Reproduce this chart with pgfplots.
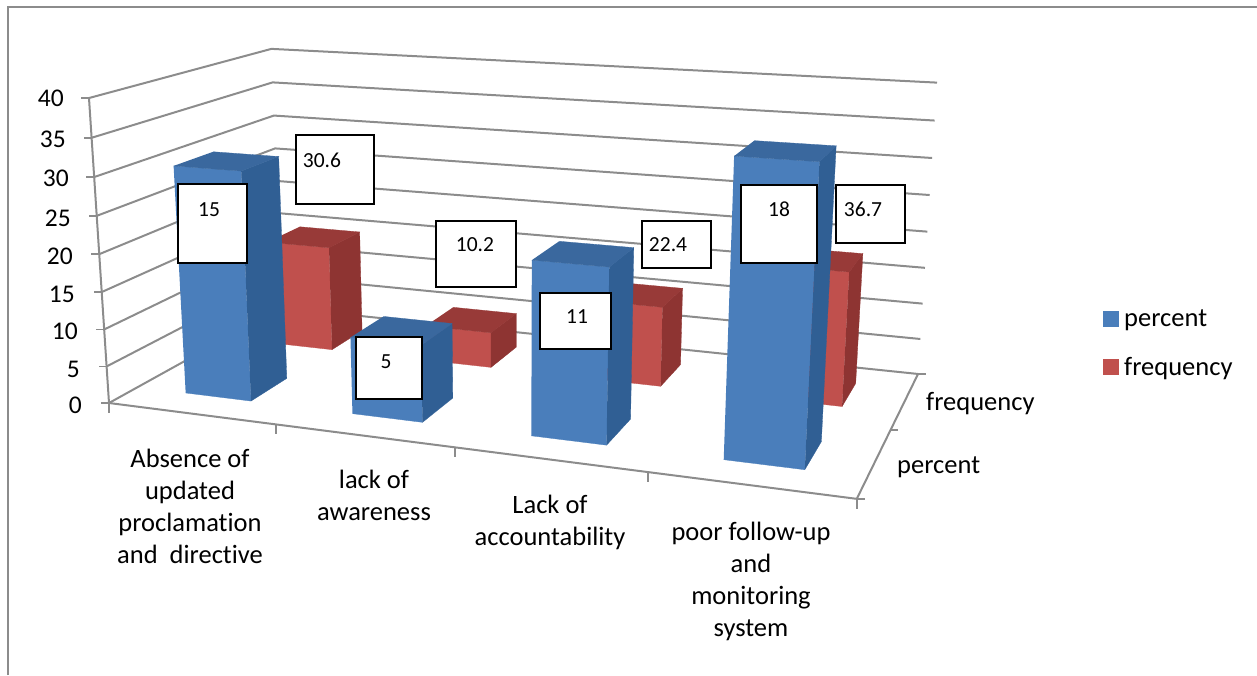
\documentclass[border=0pt]{standalone}
\usepackage{fontspec}
\setmainfont{Carlito}[Ligatures=NoCommon]
\usepackage{pgfplots}
\usepackage{pgfplotstable}
\pgfplotsset{compat=1.18}

\definecolor{gridgray}{HTML}{8C8C8C}
\definecolor{bluefront}{HTML}{4A7EBB}
\definecolor{blueside}{HTML}{305F94}
\definecolor{bluetop}{HTML}{3A689E}
\definecolor{redfront}{HTML}{C0504D}
\definecolor{redside}{HTML}{8E3432}
\definecolor{redtop}{HTML}{983A38}

% Perspective projection of the chart box: a = category run (0..1),
% b = depth (0..1), c = value on the 0..40 scale.
\pgfset{declare function={
  den(\a,\b,\c)=1-0.1378*\a+0.1871*\b-0.04707*\c/40;
  projx(\a,\b,\c)=(109+629.7*\a+224.6*\b-24.2*\c/40)/den(\a,\b,\c);
  projy(\a,\b,\c)=(403+27.1*\a-37.7*\b-309.6*\c/40)/den(\a,\b,\c);
}}

% Unit faces of a bar, as signs about its centre
\pgfplotstableread{
sx sd sv
-1 -1 0
1 -1 0
1 -1 1
-1 -1 1
}\frontface
\pgfplotstableread{
sx sd sv
1 -1 0
1 1 0
1 1 1
1 -1 1
}\sideface
\pgfplotstableread{
sx sd sv
-1 -1 1
1 -1 1
1 1 1
-1 1 1
}\topface
% Walls and floor outline
\pgfplotstableread{
x d
0 0
0 1
1 1
}\walls
\pgfplotstableread{
x d v
0 0 40
0 0 0
1 0 0
1 1 0
}\boxedge
% Tick run from the axis outward
\pgfplotstableread{
o p
0 0
1 1
}\tickrun

\newcommand{\barface}[5]{%
  \addplot[forget plot,fill=#5,draw=#5,line width=0.3pt] table[
    x expr={projx(#1+\thisrow{sx}*0.05,#2+\thisrow{sd}*0.105,\thisrow{sv}*#3)},
    y expr={projy(#1+\thisrow{sx}*0.05,#2+\thisrow{sd}*0.105,\thisrow{sv}*#3)}]{#4};}
% category centre, depth centre, value, colour prefix
\newcommand{\drawbar}[4]{%
  \barface{#1}{#2}{#3}{\frontface}{#4front}
  \barface{#1}{#2}{#3}{\sideface}{#4side}
  \barface{#1}{#2}{#3}{\topface}{#4top}}

\newcommand{\annot}[7]{%
  \draw[fill=white,draw=black,line width=1.5pt] (axis cs:#1,#2) rectangle (axis cs:#3,#4);
  \node[font=\fontsize{21.5}{24}\selectfont,inner sep=0pt] at (axis cs:#5,#6) {#7};}

\begin{document}
\begin{tikzpicture}
\begin{axis}[
  width=1257pt,height=675pt,scale only axis,
  xmin=0,xmax=1257,ymin=0,ymax=675,y dir=reverse,
  axis lines=none,
  legend style={at={(axis cs:1103,308)},anchor=north west,draw=none,fill=none,
    inner sep=0pt,outer sep=0pt,
    font=\fontsize{26.5}{30}\selectfont,row sep=25pt},
  legend cell align=left,
]
% Full chart area, so that the page keeps its size
\path (axis cs:0,0) (axis cs:1257,675);
% Outer chart border, top and left edges only
\addplot[forget plot,draw=gridgray,line width=1.5pt] coordinates {(8,675)(8,7)(1257,7)};

% Gridlines across the left wall and back wall
\pgfplotsinvokeforeach{0,5,10,15,20,25,30,35,40}{
  \addplot[forget plot,draw=gridgray,line width=2pt] table[
    x expr={projx(\thisrow{x},\thisrow{d},#1)},
    y expr={projy(\thisrow{x},\thisrow{d},#1)}]{\walls};
  % value tick left of the vertical axis
  \addplot[forget plot,draw=gridgray,line width=1.6pt] table[
    x expr={projx(0,0,#1)-8*\thisrow{o}},
    y expr={projy(0,0,#1)}]{\tickrun};
}
% Vertical axis and floor outline
\addplot[forget plot,draw=gridgray,line width=2pt] table[
  x expr={projx(\thisrow{x},\thisrow{d},\thisrow{v})},
  y expr={projy(\thisrow{x},\thisrow{d},\thisrow{v})}]{\boxedge};
% Category ticks along the front edge
\pgfplotsinvokeforeach{0,0.25,0.5,0.75,1}{
  \addplot[forget plot,draw=gridgray,line width=1.6pt] table[
    x expr={projx(#1,0,0)},
    y expr={projy(#1,0,0)+10*\thisrow{o}}]{\tickrun};
}
% Depth ticks along the right floor edge
\pgfplotsinvokeforeach{0,0.5,1}{
  \addplot[forget plot,draw=gridgray,line width=1.6pt] table[
    x expr={projx(1,#1,0)+8*\thisrow{o}},
    y expr={projy(1,#1,0)}]{\tickrun};
}

% frequency row (back)
\drawbar{0.125}{0.75}{15}{red}
\drawbar{0.375}{0.75}{5}{red}
\drawbar{0.625}{0.75}{11}{red}
\drawbar{0.875}{0.75}{18}{red}
% percent row (front)
\drawbar{0.125}{0.25}{30.6}{blue}
\drawbar{0.375}{0.25}{10.2}{blue}
\drawbar{0.625}{0.25}{22.4}{blue}
\drawbar{0.875}{0.25}{36.7}{blue}

% Value box annotations
\annot{178}{184}{247}{263}{209}{210}{15}
\annot{296}{135}{374}{204}{322}{160}{30.6}
\annot{356}{337}{422}{399}{386}{362}{5}
\annot{436}{221}{516}{287}{475}{245}{10.2}
\annot{540}{293}{611}{349}{577}{317}{11}
\annot{642}{221}{711}{268}{668}{245}{22.4}
\annot{741}{185}{817}{263}{779}{209}{18}
\annot{836}{185}{905}{243}{863}{209}{36.7}

% Value axis labels
\begin{scope}[every node/.style={font=\fontsize{25.5}{28}\selectfont,inner sep=0pt,anchor=east}]
\node at (axis cs:64,98) {40};
\node at (axis cs:66,139) {35};
\node at (axis cs:69,178) {30};
\node at (axis cs:71,218) {25};
\node at (axis cs:73,256) {20};
\node at (axis cs:75,294) {15};
\node at (axis cs:78,331) {10};
\node at (axis cs:80,369) {5};
\node at (axis cs:82,405) {0};
\end{scope}

% Category and depth labels
\begin{scope}[every node/.style={font=\fontsize{26.5}{32}\selectfont,inner sep=0pt,align=center,anchor=center}]
\node at (axis cs:190,506) {Absence of\\updated\\proclamation\\and~ directive};
\node at (axis cs:374,495) {lack of\\awareness};
\node at (axis cs:550,522) {Lack of\\accountability};
\node at (axis cs:751,581) {poor follow-up\\and\\monitoring\\system};
\node[anchor=west] at (axis cs:926,404) {frequency};
\node[anchor=west] at (axis cs:897,467) {percent};
\end{scope}

% Legend swatches keep a small gap before their text
\addlegendimage{legend image code/.code={\fill[bluefront] (0pt,-7.5pt) rectangle (15pt,7.5pt); \path[draw=none] (0pt,0pt) -- (19pt,0pt);}}
\addlegendentry{percent}
\addlegendimage{legend image code/.code={\fill[redfront] (0pt,-7.5pt) rectangle (15pt,7.5pt); \path[draw=none] (0pt,0pt) -- (19pt,0pt);}}
\addlegendentry{frequency}
\end{axis}
\end{tikzpicture}
\end{document}
